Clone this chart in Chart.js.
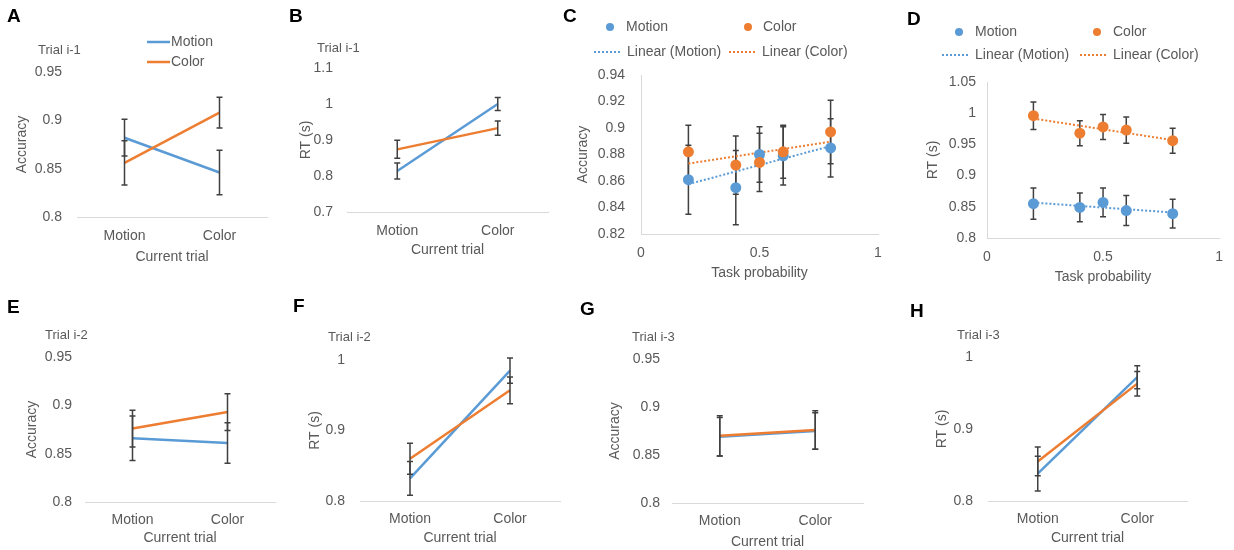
<!DOCTYPE html>
<html>
<head>
<meta charset="utf-8">
<script src="https://cdn.jsdelivr.net/npm/chart.js@4.4.0/dist/chart.umd.min.js"></script>
<style>
  html, body { margin: 0; padding: 0; background: #fff; }
  #fig { position: relative; width: 1234px; height: 550px; overflow: hidden; }
  #fig canvas { position: absolute; }
</style>
</head>
<body>
<div id="fig"></div>
<script>
// ---- data ----
const categories = ['Motion', 'Color'];
const taskProb = [0.2, 0.4, 0.5, 0.6, 0.8];

const accTicks = [0.8, 0.85, 0.9, 0.95];
const rtTicksB = [0.7, 0.8, 0.9, 1, 1.1];
const rtTicks = [0.8, 0.9, 1];
const accProbTicks = [0.82, 0.84, 0.86, 0.88, 0.9, 0.92, 0.94];
const rtProbTicks = [0.8, 0.85, 0.9, 0.95, 1, 1.05];
const probTicks = [0, 0.5, 1];

// A: accuracy, trial i-1
const accI1Motion = [0.882, 0.846];
const accI1MotionErr = [0.019, 0.023];
const accI1Color = [0.856, 0.908];
const accI1ColorErr = [0.023, 0.016];

// B: RT, trial i-1
const rtI1Motion = [0.814, 1.0];
const rtI1MotionErr = [0.022, 0.018];
const rtI1Color = [0.874, 0.933];
const rtI1ColorErr = [0.025, 0.02];

// C: accuracy by task probability
const accProbMotion = [0.861, 0.855, 0.880, 0.879, 0.885];
const accProbMotionErr = [0.026, 0.028, 0.021, 0.022, 0.022];
const accProbColor = [0.882, 0.872, 0.874, 0.882, 0.897];
const accProbColorErr = [0.02, 0.022, 0.022, 0.02, 0.024];

// D: RT by task probability
const rtProbMotion = [0.855, 0.849, 0.857, 0.844, 0.839];
const rtProbMotionErr = [0.025, 0.023, 0.023, 0.024, 0.023];
const rtProbColor = [0.996, 0.968, 0.978, 0.973, 0.956];
const rtProbColorErr = [0.022, 0.02, 0.02, 0.021, 0.02];

// E: accuracy, trial i-2
const accI2Motion = [0.866, 0.861];
const accI2MotionErr = [0.023, 0.021];
const accI2Color = [0.876, 0.893];
const accI2ColorErr = [0.019, 0.019];

// F: RT, trial i-2
const rtI2Motion = [0.832, 0.985];
const rtI2MotionErr = [0.024, 0.018];
const rtI2Color = [0.86, 0.957];
const rtI2ColorErr = [0.022, 0.019];

// G: accuracy, trial i-3
const accI3Motion = [0.869, 0.875];
const accI3MotionErr = [0.02, 0.019];
const accI3Color = [0.87, 0.876];
const accI3ColorErr = [0.021, 0.02];

// H: RT, trial i-3
const rtI3Motion = [0.838, 0.972];
const rtI3MotionErr = [0.024, 0.016];
const rtI3Color = [0.855, 0.963];
const rtI3ColorErr = [0.02, 0.017];

// ---- style ----
const BLUE = '#5B9BD5', ORANGE = '#ED7D31';
const TEXT = '#595959', AXIS = '#D9D9D9', ERR = '#404040';
const FAMILY = "'Liberation Sans', Arial, sans-serif";
const FS = 14;

Chart.defaults.font.family = FAMILY;
Chart.defaults.font.size = FS;
Chart.defaults.color = TEXT;

const fmt = v => String(+Number(v).toFixed(2));

// Excel style linear trendline over the data range
function trend(xs, ys) {
  const n = xs.length;
  const mx = xs.reduce((a, b) => a + b, 0) / n;
  const my = ys.reduce((a, b) => a + b, 0) / n;
  let sxy = 0, sxx = 0;
  xs.forEach((x, i) => { sxy += (x - mx) * (ys[i] - my); sxx += (x - mx) * (x - mx); });
  const b = sxy / sxx, a = my - b * mx;
  return [xs[0], xs[n - 1]].map(x => ({ x: x, y: a + b * x }));
}

const errorBars = {
  id: 'errorBars',
  beforeDatasetsDraw(chart, args, opts) { if (opts.under) drawErrors(chart); },
  afterDatasetsDraw(chart, args, opts) { if (!opts.under) drawErrors(chart); }
};

function drawErrors(chart) {
  const ctx = chart.ctx;
  const ys = chart.scales.y;
  ctx.save();
  ctx.strokeStyle = ERR;
  ctx.lineWidth = 1.5;
  chart.data.datasets.forEach((ds, i) => {
    if (!ds.errors) return;
    chart.getDatasetMeta(i).data.forEach((pt, j) => {
      const raw = ds.data[j];
      const v = typeof raw === 'object' ? raw.y : raw;
      const top = ys.getPixelForValue(v + ds.errors[j]);
      const bot = ys.getPixelForValue(v - ds.errors[j]);
      ctx.beginPath();
      ctx.moveTo(pt.x, top); ctx.lineTo(pt.x, bot);
      ctx.moveTo(pt.x - 3, top); ctx.lineTo(pt.x + 3, top);
      ctx.moveTo(pt.x - 3, bot); ctx.lineTo(pt.x + 3, bot);
      ctx.stroke();
    });
  });
  ctx.restore();
}

function lineSet(label, data, errors, color) {
  return { label, data, errors, borderColor: color, backgroundColor: color,
           borderWidth: 2.5, pointRadius: 0, fill: false, tension: 0 };
}

function pointSet(label, ys, errors, color) {
  return { type: 'scatter', label, data: taskProb.map((x, i) => ({ x: x, y: ys[i] })), errors,
           pointRadius: 5.5, pointBackgroundColor: color, pointBorderWidth: 0, showLine: false };
}

function trendSet(label, ys, color) {
  return { type: 'line', label, data: trend(taskProb, ys), borderColor: color, borderWidth: 2,
           borderDash: [2, 2], pointRadius: 0, fill: false };
}

function makePanel(p) {
  const cv = document.createElement('canvas');
  cv.width = p.cv.w; cv.height = p.cv.h;
  cv.style.left = p.cv.x + 'px';
  cv.style.top = p.cv.y + 'px';
  document.getElementById('fig').appendChild(cv);

  const lh = FS * 1.2;
  const axisLeft = p.yTitleX - lh / 2;
  const axisBottom = p.xTitleY + lh / 2;
  const ox = p.cv.x, oy = p.cv.y;

  const decor = {
    id: 'decor',
    afterDraw(chart) {
      const ctx = chart.ctx;
      ctx.save();
      ctx.textBaseline = 'middle';
      ctx.textAlign = 'left';
      ctx.font = `bold 19px ${FAMILY}`;
      ctx.fillStyle = '#000';
      ctx.fillText(p.letter[0], p.letter[1] - ox, p.letter[2] - oy);
      if (p.sub) {
        ctx.font = `13px ${FAMILY}`;
        ctx.fillStyle = TEXT;
        ctx.fillText(p.sub[0], p.sub[1] - ox, p.sub[2] - oy);
      }
      (p.legend || []).forEach(it => {
        ctx.strokeStyle = it.color;
        ctx.fillStyle = it.color;
        if (it.kind === 'dot') {
          ctx.beginPath();
          ctx.arc(it.x1 - ox, it.y - oy, 4, 0, Math.PI * 2);
          ctx.fill();
        } else {
          ctx.lineWidth = it.kind === 'line' ? 2.5 : 2;
          ctx.setLineDash(it.kind === 'dotted' ? [2, 2] : []);
          ctx.beginPath();
          ctx.moveTo(it.x1 - ox, it.y - oy);
          ctx.lineTo(it.x2 - ox, it.y - oy);
          ctx.stroke();
          ctx.setLineDash([]);
        }
        ctx.font = `${FS}px ${FAMILY}`;
        ctx.fillStyle = TEXT;
        ctx.fillText(it.label, it.tx - ox, it.y - oy);
      });
      ctx.restore();
    }
  };

  const xScale = p.scatter ? {
    type: 'linear', min: 0, max: 1,
    afterBuildTicks: s => { s.ticks = probTicks.map(v => ({ value: v })); }
  } : { type: 'category', offset: true };

  Object.assign(xScale, {
    grid: { display: false, drawTicks: false },
    border: { display: true, color: AXIS, width: 1 },
    ticks: { padding: p.xPad, maxRotation: 0, autoSkip: false, color: TEXT },
    title: { display: true, text: p.xTitle, padding: 0, color: TEXT },
    afterFit: s => { s.height = axisBottom - p.area.b; }
  });
  if (p.scatter) xScale.ticks.callback = v => fmt(v);

  new Chart(cv, {
    type: p.scatter ? 'scatter' : 'line',
    data: { labels: p.scatter ? undefined : categories, datasets: p.datasets },
    options: {
      responsive: false,
      animation: false,
      devicePixelRatio: 1,
      events: [],
      layout: {
        padding: {
          left: axisLeft - ox,
          top: p.area.t - oy,
          right: ox + p.cv.w - p.area.r,
          bottom: oy + p.cv.h - axisBottom
        }
      },
      scales: {
        x: xScale,
        y: {
          min: p.yTicks[0],
          max: p.yTicks[p.yTicks.length - 1],
          afterBuildTicks: s => { s.ticks = p.yTicks.map(v => ({ value: v })); },
          afterFit: s => { s.width = p.area.l - axisLeft; },
          grid: { display: false, drawTicks: false },
          border: { display: !!p.scatter, color: AXIS, width: 1 },
          ticks: { padding: p.yPad, color: TEXT, callback: v => fmt(v) },
          title: { display: true, text: p.yTitle, padding: 0, color: TEXT }
        }
      },
      plugins: {
        legend: { display: false },
        tooltip: { enabled: false },
        errorBars: { under: !!p.scatter }
      }
    },
    plugins: [errorBars, decor]
  });
}

// ---- panels ----
makePanel({
  cv: { x: 0, y: 0, w: 286, h: 290 }, area: { l: 77, r: 267, t: 72, b: 217 },
  yTitleX: 22, xTitleY: 257, yPad: 15, xPad: 11,
  yTicks: accTicks, yTitle: 'Accuracy', xTitle: 'Current trial',
  letter: ['A', 7, 17], sub: ['Trial i-1', 38, 50],
  legend: [
    { kind: 'line', color: BLUE, x1: 147, x2: 170, y: 42, tx: 171, label: 'Motion' },
    { kind: 'line', color: ORANGE, x1: 147, x2: 170, y: 62, tx: 171, label: 'Color' }
  ],
  datasets: [lineSet('Color', accI1Color, accI1ColorErr, ORANGE), lineSet('Motion', accI1Motion, accI1MotionErr, BLUE)]
});

makePanel({
  cv: { x: 286, y: 0, w: 274, h: 290 }, area: { l: 347, r: 548, t: 68, b: 212 },
  yTitleX: 306, xTitleY: 250, yPad: 14, xPad: 11,
  yTicks: rtTicksB, yTitle: 'RT (s)', xTitle: 'Current trial',
  letter: ['B', 289, 17], sub: ['Trial i-1', 317, 48],
  datasets: [lineSet('Color', rtI1Color, rtI1ColorErr, ORANGE), lineSet('Motion', rtI1Motion, rtI1MotionErr, BLUE)]
});

makePanel({
  scatter: true,
  cv: { x: 560, y: 0, w: 340, h: 292 }, area: { l: 641, r: 878, t: 75, b: 234 },
  yTitleX: 583, xTitleY: 273, yPad: 16, xPad: 11,
  yTicks: accProbTicks, yTitle: 'Accuracy', xTitle: 'Task probability',
  letter: ['C', 563, 17],
  legend: [
    { kind: 'dot', color: BLUE, x1: 610, y: 27, tx: 626, label: 'Motion' },
    { kind: 'dot', color: ORANGE, x1: 748, y: 27, tx: 763, label: 'Color' },
    { kind: 'dotted', color: BLUE, x1: 594, x2: 622, y: 52, tx: 627, label: 'Linear (Motion)' },
    { kind: 'dotted', color: ORANGE, x1: 729, x2: 757, y: 52, tx: 762, label: 'Linear (Color)' }
  ],
  datasets: [
    pointSet('Color', accProbColor, accProbColorErr, ORANGE),
    pointSet('Motion', accProbMotion, accProbMotionErr, BLUE),
    trendSet('Linear (Color)', accProbColor, ORANGE),
    trendSet('Linear (Motion)', accProbMotion, BLUE)
  ]
});

makePanel({
  scatter: true,
  cv: { x: 900, y: 0, w: 334, h: 294 }, area: { l: 987, r: 1228, t: 82, b: 238 },
  yTitleX: 933, xTitleY: 277, yPad: 11, xPad: 11,
  yTicks: rtProbTicks, yTitle: 'RT (s)', xTitle: 'Task probability',
  letter: ['D', 907, 20],
  legend: [
    { kind: 'dot', color: BLUE, x1: 959, y: 32, tx: 975, label: 'Motion' },
    { kind: 'dot', color: ORANGE, x1: 1097, y: 32, tx: 1113, label: 'Color' },
    { kind: 'dotted', color: BLUE, x1: 942, x2: 970, y: 55, tx: 975, label: 'Linear (Motion)' },
    { kind: 'dotted', color: ORANGE, x1: 1080, x2: 1108, y: 55, tx: 1113, label: 'Linear (Color)' }
  ],
  datasets: [
    pointSet('Color', rtProbColor, rtProbColorErr, ORANGE),
    pointSet('Motion', rtProbMotion, rtProbMotionErr, BLUE),
    trendSet('Linear (Color)', rtProbColor, ORANGE),
    trendSet('Linear (Motion)', rtProbMotion, BLUE)
  ]
});

makePanel({
  cv: { x: 0, y: 294, w: 288, h: 256 }, area: { l: 85, r: 275, t: 357, b: 502 },
  yTitleX: 32, xTitleY: 538, yPad: 13, xPad: 10,
  yTicks: accTicks, yTitle: 'Accuracy', xTitle: 'Current trial',
  letter: ['E', 7, 308], sub: ['Trial i-2', 45, 335],
  datasets: [lineSet('Color', accI2Color, accI2ColorErr, ORANGE), lineSet('Motion', accI2Motion, accI2MotionErr, BLUE)]
});

makePanel({
  cv: { x: 288, y: 294, w: 290, h: 256 }, area: { l: 360, r: 560, t: 360, b: 501 },
  yTitleX: 315, xTitleY: 538, yPad: 15, xPad: 10,
  yTicks: rtTicks, yTitle: 'RT (s)', xTitle: 'Current trial',
  letter: ['F', 293, 307], sub: ['Trial i-2', 328, 337],
  datasets: [lineSet('Color', rtI2Color, rtI2ColorErr, ORANGE), lineSet('Motion', rtI2Motion, rtI2MotionErr, BLUE)]
});

makePanel({
  cv: { x: 578, y: 294, w: 322, h: 256 }, area: { l: 672, r: 863, t: 359, b: 503 },
  yTitleX: 615, xTitleY: 542, yPad: 12, xPad: 10,
  yTicks: accTicks, yTitle: 'Accuracy', xTitle: 'Current trial',
  letter: ['G', 580, 310], sub: ['Trial i-3', 632, 337],
  datasets: [lineSet('Color', accI3Color, accI3ColorErr, ORANGE), lineSet('Motion', accI3Motion, accI3MotionErr, BLUE)]
});

makePanel({
  cv: { x: 900, y: 296, w: 334, h: 254 }, area: { l: 988, r: 1187, t: 357, b: 501 },
  yTitleX: 942, xTitleY: 538, yPad: 15, xPad: 10,
  yTicks: rtTicks, yTitle: 'RT (s)', xTitle: 'Current trial',
  letter: ['H', 910, 312], sub: ['Trial i-3', 957, 335],
  datasets: [lineSet('Color', rtI3Color, rtI3ColorErr, ORANGE), lineSet('Motion', rtI3Motion, rtI3MotionErr, BLUE)]
});
</script>
</body>
</html>
